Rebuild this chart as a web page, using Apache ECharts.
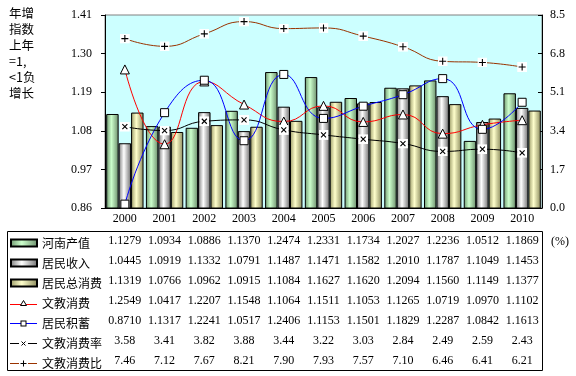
<!DOCTYPE html>
<html>
<head>
<meta charset="utf-8">
<script src="https://cdn.jsdelivr.net/npm/echarts@6/dist/echarts.min.js"></script>
<style>
  html, body { margin: 0; padding: 0; background: #fff; }
  #main { width: 576px; height: 376px; }
</style>
</head>
<body>
<div id="main"></div>
<script>
const years = ['2000', '2001', '2002', '2003', '2004', '2005', '2006', '2007', '2008', '2009', '2010'];
const henanOutput = [1.1279, 1.0934, 1.0886, 1.1370, 1.2474, 1.2331, 1.1734, 1.2027, 1.2236, 1.0512, 1.1869];
const income = [1.0445, 1.0919, 1.1332, 1.0791, 1.1487, 1.1471, 1.1582, 1.2010, 1.1787, 1.1049, 1.1453];
const totalConsume = [1.1319, 1.0766, 1.0962, 1.0915, 1.1084, 1.1627, 1.1620, 1.2094, 1.1560, 1.1149, 1.1377];
const eduConsume = [1.2549, 1.0417, 1.2207, 1.1548, 1.1064, 1.1511, 1.1053, 1.1265, 1.0719, 1.0970, 1.1102];
const savings = [0.8710, 1.1317, 1.2241, 1.0517, 1.2406, 1.1153, 1.1501, 1.1829, 1.2287, 1.0842, 1.1613];
const eduRate = [3.58, 3.41, 3.82, 3.88, 3.44, 3.22, 3.03, 2.84, 2.49, 2.59, 2.43];
const eduRatio = [7.46, 7.12, 7.67, 8.21, 7.90, 7.93, 7.57, 7.10, 6.46, 6.41, 6.21];

const leftTicks = { min: 0.86, max: 1.41, interval: 0.11 };
const rightTicks = { min: 0, max: 8.5, interval: 1.7 };

const serif = "'Liberation Serif', 'Times New Roman', serif";
const cjk = "'Noto Sans CJK SC', sans-serif";

const svgUri = (w, h, body) => 'image://data:image/svg+xml;utf8,' + encodeURIComponent(
  '<svg xmlns="http://www.w3.org/2000/svg" width="' + w + '" height="' + h + '">' + body + '</svg>');

// point markers
const crossIcon = svgUri(10, 10, '<rect width="10" height="10" fill="#fff"/>' +
  '<path d="M2.5 2.5L7.5 7.5M7.5 2.5L2.5 7.5" stroke="#000" stroke-width="1.1"/>');
const plusIcon = svgUri(10, 10, '<rect width="10" height="10" fill="#fff"/>' +
  '<path d="M5 1.5V8.5M1.5 5H8.5" stroke="#000" stroke-width="1.1"/>');

// legend icons for the line series (line + small marker)
const legTri = svgUri(27, 8, '<path d="M0 5.5H27" stroke="#ff0000"/>' +
  '<path d="M13.5 1.5L16.5 6.5H10.5Z" fill="#fff" stroke="#000"/>');
const legRect = svgUri(27, 8, '<path d="M0 4.5H27" stroke="#0000ff"/>' +
  '<rect x="11" y="2" width="5" height="5" fill="#fff" stroke="#000"/>');
const legCross = svgUri(27, 8, '<path d="M0 4.5H9M18 4.5H27" stroke="#000"/>' +
  '<path d="M11.5 2.5L15.5 6.5M15.5 2.5L11.5 6.5" stroke="#000"/>');
const legPlus = svgUri(27, 8, '<path d="M0 4.5H9M18 4.5H27" stroke="#993300"/>' +
  '<path d="M13.5 1.5V7.5M10.5 4.5H16.5" stroke="#000"/>');

const grad = (a, b, c) => new echarts.graphic.LinearGradient(0, 0, 1, 0, [
  { offset: 0, color: a }, { offset: 0.42, color: b }, { offset: 1, color: c }
]);

// rows of the data table: name, values, text format
const rows = [
  { name: '河南产值', data: henanOutput, digits: 4, icon: 'rect' },
  { name: '居民收入', data: income, digits: 4, icon: 'rect' },
  { name: '居民总消费', data: totalConsume, digits: 4, icon: 'rect' },
  { name: '文教消费', data: eduConsume, digits: 4, icon: legTri },
  { name: '居民积蓄', data: savings, digits: 4, icon: legRect },
  { name: '文教消费率', data: eduRate, digits: 2, icon: legCross },
  { name: '文教消费比', data: eduRatio, digits: 2, icon: legPlus }
];

const chart = echarts.init(document.getElementById('main'));

const xAxes = [
  {
    type: 'category', data: years, gridIndex: 0, position: 'bottom',
    axisLine: { onZero: false, lineStyle: { color: '#000' } },
    axisTick: { length: 22, lineStyle: { color: '#000' } },
    axisLabel: { interval: 0, margin: 0, lineHeight: 22, fontSize: 12, fontFamily: serif, color: '#000' },
    splitLine: { show: false }
  },
  {
    // column separators of the table
    type: 'category', data: years, gridIndex: 0, position: 'bottom', offset: 23,
    axisLine: { show: false, onZero: false },
    axisTick: { length: 139, lineStyle: { color: '#000' } },
    axisLabel: { show: false }
  }
];
rows.forEach((r, i) => {
  xAxes.push({
    type: 'category', data: years, gridIndex: 0, position: 'bottom', offset: 25 + i * 20,
    axisLine: { show: false, onZero: false },
    axisTick: { show: false },
    axisLabel: {
      interval: 0, margin: 0, lineHeight: 16, fontSize: 12, fontFamily: serif, color: '#000',
      formatter: (v, idx) => r.data[idx].toFixed(r.digits)
    }
  });
});

const legends = rows.map((r, i) => ({
  left: 10, top: 236 + i * 20, padding: 0,
  orient: 'horizontal', selectedMode: false,
  itemWidth: r.icon === 'rect' ? 26 : 27, itemHeight: r.icon === 'rect' ? 7 : 8,
  data: [{ name: r.name, icon: r.icon }],
  textStyle: { fontSize: 12, fontFamily: cjk, color: '#000', lineHeight: 14 }
}));

const barStyle = (a, b, c) => ({ color: grad(a, b, c), borderColor: '#000', borderWidth: 1 });

const option = {
  animation: false,
  title: {
    text: '年增\n指数\n上年\n=1,\n<1负\n增长',
    left: 9, top: 5, padding: 0,
    textStyle: { fontSize: 12.5, fontWeight: 'normal', fontFamily: cjk, color: '#000', lineHeight: 16 }
  },
  legend: legends,
  grid: {
    left: 105, right: 34, top: 15, bottom: 168,
    show: true, backgroundColor: '#ccffff', borderColor: '#808080', borderWidth: 1,
    containLabel: false, outerBoundsMode: 'none'
  },
  xAxis: xAxes,
  yAxis: [
    {
      type: 'value', position: 'left',
      min: leftTicks.min, max: leftTicks.max, interval: leftTicks.interval,
      axisLine: { show: true, lineStyle: { color: '#000' } },
      axisTick: { show: true, length: 4, lineStyle: { color: '#000' } },
      axisLabel: { margin: 13, fontSize: 12, fontFamily: serif, color: '#000', formatter: v => v.toFixed(2) },
      splitLine: { show: false }
    },
    {
      type: 'value', position: 'right',
      min: rightTicks.min, max: rightTicks.max, interval: rightTicks.interval,
      axisLine: { show: true, lineStyle: { color: '#000' } },
      axisTick: { show: true, inside: true, length: 4, lineStyle: { color: '#000' } },
      axisLabel: { margin: 8, fontSize: 12, fontFamily: serif, color: '#000', formatter: v => v.toFixed(1) },
      splitLine: { show: false }
    }
  ],
  graphic: [
    {
      type: 'rect', silent: true,
      shape: { x: 7.5, y: 231.5, width: 535, height: 139 },
      style: { fill: 'none', stroke: '#000', lineWidth: 1 }
    },
    {
      type: 'text', left: 551, top: 236, silent: true,
      style: { text: '(%)', font: '12px ' + serif, fill: '#000' }
    }
  ],
  series: [
    {
      name: '河南产值', type: 'bar', data: henanOutput, barGap: '0%', barCategoryGap: '6%',
      itemStyle: barStyle('#6f966f', '#ccffcc', '#6a8c6a')
    },
    {
      name: '居民收入', type: 'bar', data: income, barGap: '0%', barCategoryGap: '6%',
      itemStyle: barStyle('#7a7a7a', '#ffffff', '#6e6e6e')
    },
    {
      name: '居民总消费', type: 'bar', data: totalConsume, barGap: '0%', barCategoryGap: '6%',
      itemStyle: barStyle('#999966', '#ffffcc', '#8a8a5c')
    },
    {
      name: '文教消费', type: 'line', data: eduConsume, smooth: true,
      symbol: 'triangle', symbolSize: 9,
      lineStyle: { color: '#ff0000', width: 1 },
      itemStyle: { color: '#ffffff', borderColor: '#000', borderWidth: 1 }
    },
    {
      name: '居民积蓄', type: 'line', data: savings, smooth: true,
      symbol: 'rect', symbolSize: 8,
      lineStyle: { color: '#0000ff', width: 1 },
      itemStyle: { color: '#ffffff', borderColor: '#000', borderWidth: 1 }
    },
    {
      name: '文教消费率', type: 'line', yAxisIndex: 1, data: eduRate, smooth: true,
      symbol: crossIcon, symbolSize: 10,
      lineStyle: { color: '#000000', width: 1 },
      itemStyle: { color: '#000000' }
    },
    {
      name: '文教消费比', type: 'line', yAxisIndex: 1, data: eduRatio, smooth: true,
      symbol: plusIcon, symbolSize: 10,
      lineStyle: { color: '#993300', width: 1 },
      itemStyle: { color: '#993300' }
    }
  ]
};

chart.setOption(option);
</script>
</body>
</html>
